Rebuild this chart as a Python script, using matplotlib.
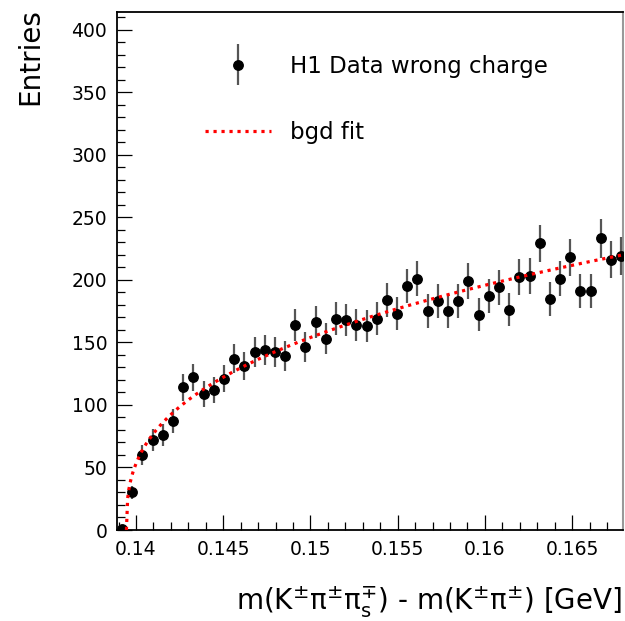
"""
H1 wrong-charge D* background: Delta m distribution with background fit.
"""

import numpy as np

import matplotlib
matplotlib.use("Agg")
import matplotlib.pyplot as plt
from matplotlib.ticker import MultipleLocator
from matplotlib.legend_handler import HandlerErrorbar

plt.rcParams["font.family"] = ["DejaVu Sans"]
plt.rcParams["mathtext.fontset"] = "dejavusans"


# ============================================================
# DATA
# ============================================================

# histogram binning (GeV)
bin_lo = 0.13891
bin_width = 0.000584
n_bins = 50

# entries per bin
counts = [1, 30, 60, 72, 76, 87, 114, 122, 109, 112,
          121, 137, 131, 142, 144, 142, 139, 164, 146, 166,
          153, 169, 168, 164, 163, 169, 184, 173, 195, 201,
          175, 183, 175, 183, 199, 172, 187, 194, 176, 202,
          203, 229, 185, 201, 218, 191, 191, 233, 216, 219]

# background fit: N * (dm - thr)^p
fit_norm = 792.0
fit_power = 0.36
fit_thresh = 0.13945

x_range = (0.13891, 0.16792)
y_range = (0, 414)

data_label = "H1 Data wrong charge"
fit_label = "bgd fit"
x_title = (r"m(K$^{\pm}$π$^{\pm}$π$^{\mp}_{\mathrm{s}}$) - "
           r"m(K$^{\pm}$π$^{\pm}$) [GeV]")
y_title = "Entries"


# ============================================================
# PLOT
# ============================================================

W, H = 625, 621
fig = plt.figure(figsize=(W / 100, H / 100), dpi=100)
ax = fig.add_axes([117 / W, 1 - 530 / H, (623 - 117) / W, (530 - 12) / H])

edges = bin_lo + bin_width * np.arange(n_bins + 1)
centers = 0.5 * (edges[:-1] + edges[1:])
y = np.array(counts, dtype=float)

data_h = ax.errorbar(centers, y, yerr=np.sqrt(y), fmt="o", color="black",
                     ms=6.8, ecolor="#555555", elinewidth=1.6, capsize=0,
                     zorder=3)

xf = np.linspace(fit_thresh, x_range[1], 400)
yf = fit_norm * (xf - fit_thresh) ** fit_power
fit_h, = ax.plot(xf, yf, color="#ff0000", lw=2.3, ls=(0, (1, 1.5)), zorder=4)

ax.set_xlim(*x_range)
ax.set_ylim(*y_range)

ax.xaxis.set_major_locator(MultipleLocator(0.005))
ax.xaxis.set_minor_locator(MultipleLocator(0.001))
ax.yaxis.set_major_locator(MultipleLocator(50))
ax.yaxis.set_minor_locator(MultipleLocator(10))
ax.xaxis.set_major_formatter(lambda v, p: f"{v:g}")

ax.tick_params(which="both", direction="in", top=False, right=False,
               labelsize=13.5, width=0.9, pad=7)
ax.tick_params(which="major", length=11)
ax.tick_params(which="minor", length=6)

for side in ("left", "bottom", "top"):
    ax.spines[side].set_linewidth(1.3)
ax.spines["right"].set_color("#999999")
ax.spines["right"].set_linewidth(1.5)

ax.legend([data_h, fit_h], [data_label, fit_label],
          loc="upper left", bbox_to_anchor=(205 / W, 1 - 54.6 / H),
          bbox_transform=fig.transFigure, frameon=False, fontsize=16.5,
          handlelength=2.9, handletextpad=0.8, labelspacing=1.9,
          borderpad=0, borderaxespad=0,
          handler_map={type(data_h): HandlerErrorbar(yerr_size=0.9)})

fig.text(622 / W, 1 - 610 / H, x_title, ha="right", va="baseline", fontsize=20)
fig.text(44 / W, 1 - 8 / H, y_title, rotation=90, ha="right", va="top",
         fontsize=20)

fig.savefig("out.png", dpi=100)
plt.close(fig)
